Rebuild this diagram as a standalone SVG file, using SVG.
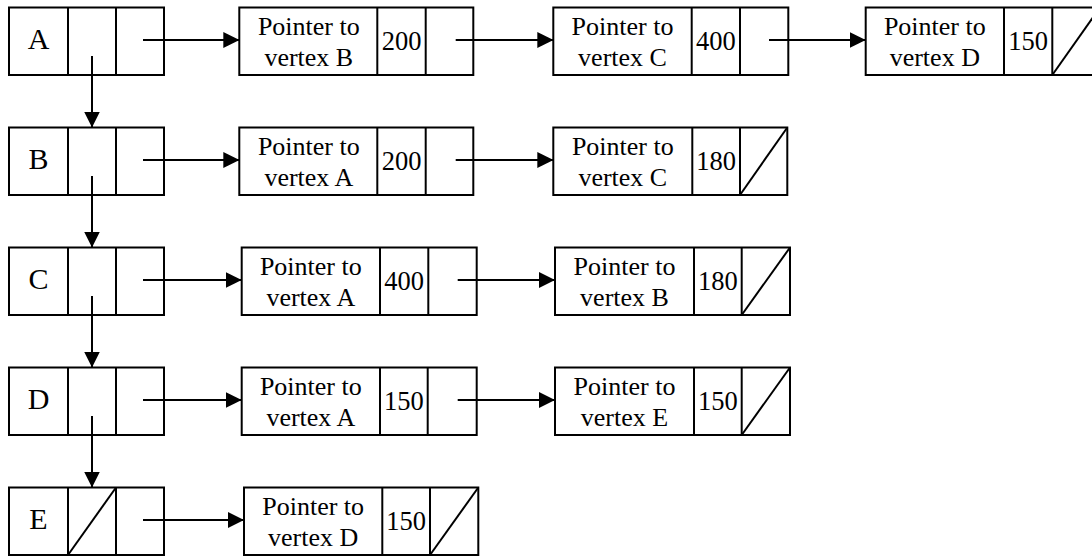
<svg xmlns="http://www.w3.org/2000/svg" width="1092" height="556" viewBox="0 0 1092 556">
  <style>
    .box { fill: #fff; stroke: #000; stroke-width: 2; }
    .div { stroke: #000; stroke-width: 2; fill: none; }
    .conn { stroke: #000; stroke-width: 2; fill: none; }
    text { font-family: 'Liberation Serif', 'Times New Roman', Times, 'DejaVu Serif', serif; fill: #000; text-anchor: middle; }
    .name { font-size: 30px; }
    .ptr { font-size: 26px; }
    .num { font-size: 26.5px; }
  </style>
  <defs>
    <marker id="head" viewBox="0 0 16 16" markerWidth="16" markerHeight="16" refX="16" refY="8" orient="auto" markerUnits="userSpaceOnUse">
      <path d="M0,0 L16,8 L0,16 z" fill="#000"/>
    </marker>
  </defs>

  <rect width="1092" height="556" fill="#fff"/>

  <g font-family="Liberation Serif, Times New Roman, serif">
  <!-- vertex list heads -->
  <g id="vertex-A">
    <rect class="box" x="9" y="7.5" width="155" height="67.5"/>
    <line class="div" x1="68" y1="7.5" x2="68" y2="75"/>
    <line class="div" x1="116" y1="7.5" x2="116" y2="75"/>
    <text class="name" x="38.5" y="48.5">A</text>
  </g>
  <g id="vertex-B">
    <rect class="box" x="9" y="127.5" width="155" height="67.5"/>
    <line class="div" x1="68" y1="127.5" x2="68" y2="195"/>
    <line class="div" x1="116" y1="127.5" x2="116" y2="195"/>
    <text class="name" x="38.5" y="168.5">B</text>
  </g>
  <g id="vertex-C">
    <rect class="box" x="9" y="247.5" width="155" height="67.5"/>
    <line class="div" x1="68" y1="247.5" x2="68" y2="315"/>
    <line class="div" x1="116" y1="247.5" x2="116" y2="315"/>
    <text class="name" x="38.5" y="288.5">C</text>
  </g>
  <g id="vertex-D">
    <rect class="box" x="9" y="367.5" width="155" height="67.5"/>
    <line class="div" x1="68" y1="367.5" x2="68" y2="435"/>
    <line class="div" x1="116" y1="367.5" x2="116" y2="435"/>
    <text class="name" x="38.5" y="408.5">D</text>
  </g>
  <g id="vertex-E">
    <rect class="box" x="9" y="487.5" width="155" height="67.5"/>
    <line class="div" x1="68" y1="487.5" x2="68" y2="555"/>
    <line class="div" x1="116" y1="487.5" x2="116" y2="555"/>
    <line class="div" x1="68" y1="555" x2="116" y2="487.5"/>
    <text class="name" x="38.5" y="528.5">E</text>
  </g>

  <!-- edge nodes, row A -->
  <g id="edge-A-B">
    <rect class="box" x="239.3" y="7.5" width="234" height="67.5"/>
    <line class="div" x1="377.3" y1="7.5" x2="377.3" y2="75"/>
    <line class="div" x1="425.7" y1="7.5" x2="425.7" y2="75"/>
    <text class="ptr" x="308.8" y="35">Pointer to</text>
    <text class="ptr" x="308.8" y="65.5">vertex B</text>
    <text class="num" x="401.5" y="49.5">200</text>
  </g>
  <g id="edge-A-C">
    <rect class="box" x="553.3" y="7.5" width="235" height="67.5"/>
    <line class="div" x1="691.7" y1="7.5" x2="691.7" y2="75"/>
    <line class="div" x1="740" y1="7.5" x2="740" y2="75"/>
    <text class="ptr" x="622.5" y="35">Pointer to</text>
    <text class="ptr" x="622.5" y="65.5">vertex C</text>
    <text class="num" x="715.8" y="49.5">400</text>
  </g>
  <g id="edge-A-D">
    <rect class="box" x="865.7" y="7.5" width="234.3" height="67.5"/>
    <line class="div" x1="1004" y1="7.5" x2="1004" y2="75"/>
    <line class="div" x1="1052.3" y1="7.5" x2="1052.3" y2="75"/>
    <line class="div" x1="1052.3" y1="75" x2="1100" y2="7.5"/>
    <text class="ptr" x="934.8" y="35">Pointer to</text>
    <text class="ptr" x="934.8" y="65.5">vertex D</text>
    <text class="num" x="1028" y="49.5">150</text>
  </g>

  <!-- edge nodes, row B -->
  <g id="edge-B-A">
    <rect class="box" x="239.3" y="127.5" width="234" height="67.5"/>
    <line class="div" x1="377.3" y1="127.5" x2="377.3" y2="195"/>
    <line class="div" x1="425.7" y1="127.5" x2="425.7" y2="195"/>
    <text class="ptr" x="308.8" y="155">Pointer to</text>
    <text class="ptr" x="308.8" y="185.5">vertex A</text>
    <text class="num" x="401.5" y="169.5">200</text>
  </g>
  <g id="edge-B-C">
    <rect class="box" x="553.3" y="127.5" width="234" height="67.5"/>
    <line class="div" x1="692.3" y1="127.5" x2="692.3" y2="195"/>
    <line class="div" x1="740" y1="127.5" x2="740" y2="195"/>
    <line class="div" x1="740" y1="195" x2="787.3" y2="127.5"/>
    <text class="ptr" x="622.8" y="155">Pointer to</text>
    <text class="ptr" x="622.8" y="185.5">vertex C</text>
    <text class="num" x="716.2" y="169.5">180</text>
  </g>

  <!-- edge nodes, row C -->
  <g id="edge-C-A">
    <rect class="box" x="241.7" y="247.5" width="235" height="67.5"/>
    <line class="div" x1="380" y1="247.5" x2="380" y2="315"/>
    <line class="div" x1="428.3" y1="247.5" x2="428.3" y2="315"/>
    <text class="ptr" x="310.8" y="275">Pointer to</text>
    <text class="ptr" x="310.8" y="305.5">vertex A</text>
    <text class="num" x="404.2" y="289.5">400</text>
  </g>
  <g id="edge-C-B">
    <rect class="box" x="555" y="247.5" width="235" height="67.5"/>
    <line class="div" x1="694" y1="247.5" x2="694" y2="315"/>
    <line class="div" x1="741.7" y1="247.5" x2="741.7" y2="315"/>
    <line class="div" x1="741.7" y1="315" x2="790" y2="247.5"/>
    <text class="ptr" x="624.5" y="275">Pointer to</text>
    <text class="ptr" x="624.5" y="305.5">vertex B</text>
    <text class="num" x="717.8" y="289.5">180</text>
  </g>

  <!-- edge nodes, row D -->
  <g id="edge-D-A">
    <rect class="box" x="241.7" y="367.5" width="235" height="67.5"/>
    <line class="div" x1="380" y1="367.5" x2="380" y2="435"/>
    <line class="div" x1="427.7" y1="367.5" x2="427.7" y2="435"/>
    <text class="ptr" x="310.8" y="395">Pointer to</text>
    <text class="ptr" x="310.8" y="425.5">vertex A</text>
    <text class="num" x="403.8" y="409.5">150</text>
  </g>
  <g id="edge-D-E">
    <rect class="box" x="555" y="367.5" width="235" height="67.5"/>
    <line class="div" x1="694" y1="367.5" x2="694" y2="435"/>
    <line class="div" x1="741.7" y1="367.5" x2="741.7" y2="435"/>
    <line class="div" x1="741.7" y1="435" x2="790" y2="367.5"/>
    <text class="ptr" x="624.5" y="395">Pointer to</text>
    <text class="ptr" x="624.5" y="425.5">vertex E</text>
    <text class="num" x="717.8" y="409.5">150</text>
  </g>

  <!-- edge nodes, row E -->
  <g id="edge-E-D">
    <rect class="box" x="244" y="487.5" width="234.3" height="67.5"/>
    <line class="div" x1="382.3" y1="487.5" x2="382.3" y2="555"/>
    <line class="div" x1="430" y1="487.5" x2="430" y2="555"/>
    <line class="div" x1="430" y1="555" x2="478.3" y2="487.5"/>
    <text class="ptr" x="313.2" y="515">Pointer to</text>
    <text class="ptr" x="313.2" y="545.5">vertex D</text>
    <text class="num" x="406.2" y="529.5">150</text>
  </g>
  </g>

  <!-- connectors -->
  <g id="connectors" class="conn" marker-end="url(#head)">
    <line x1="143" y1="40" x2="239.3" y2="40"/>
    <line x1="455.7" y1="40" x2="553.3" y2="40"/>
    <line x1="769" y1="40" x2="865.7" y2="40"/>
    <line x1="143" y1="160" x2="239.3" y2="160"/>
    <line x1="455.7" y1="160" x2="553.3" y2="160"/>
    <line x1="143" y1="280" x2="241.7" y2="280"/>
    <line x1="457.7" y1="280" x2="555" y2="280"/>
    <line x1="143" y1="400" x2="241.7" y2="400"/>
    <line x1="457.7" y1="400" x2="555" y2="400"/>
    <line x1="143" y1="520" x2="244" y2="520"/>
    <line x1="92" y1="56" x2="92" y2="127.5"/>
    <line x1="92" y1="176" x2="92" y2="247.5"/>
    <line x1="92" y1="296" x2="92" y2="367.5"/>
    <line x1="92" y1="416" x2="92" y2="487.5"/>
  </g>
</svg>
